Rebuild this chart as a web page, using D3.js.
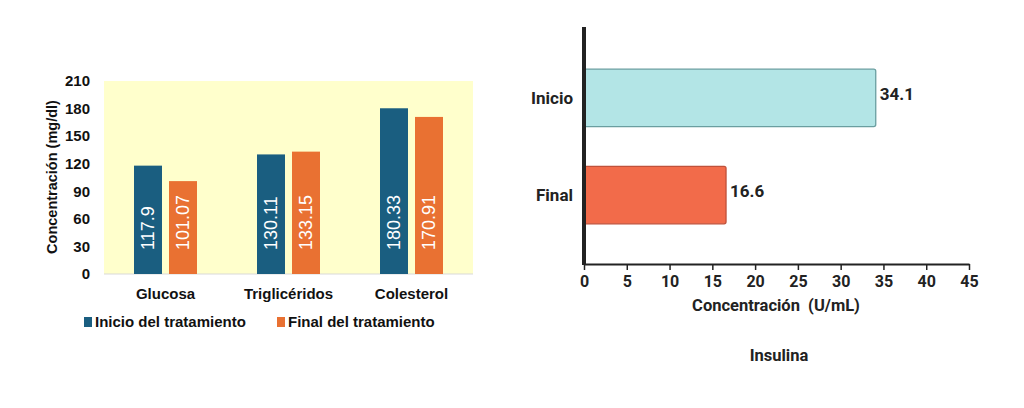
<!DOCTYPE html>
<html><head><meta charset="utf-8">
<script src="https://cdn.jsdelivr.net/npm/d3@7"></script>
<style>body{margin:0;background:#fff}</style>
</head><body><svg width="1024" height="408"></svg>
<script>
// left chart data
const categories = ["Glucosa", "Triglicéridos", "Colesterol"];
const seriesNames = ["Inicio del tratamiento", "Final del tratamiento"];
const inicio = [117.9, 130.11, 180.33];
const final = [101.07, 133.15, 170.91];
const inicioLabels = ["117.9", "130.11", "180.33"];
const finalLabels = ["101.07", "133.15", "170.91"];
const yTicks = [0, 30, 60, 90, 120, 150, 180, 210];
// right chart data
const insCats = ["Inicio", "Final"];
const insValues = [34.1, 16.6];
const xTicks = [0, 5, 10, 15, 20, 25, 30, 35, 40, 45];

const svg = d3.select("svg");
const colors = ["#1a5e80", "#e97132"];

// ---- left grouped bars
const x0 = d3.scaleBand().domain(categories).range([104, 473]);
const y = d3.scaleLinear().domain([0, 210]).range([274, 81]);
svg.append("rect").attr("x", 104).attr("y", y(210)).attr("width", 369).attr("height", y(0) - y(210)).attr("fill", "#ffffcc");
svg.append("line").attr("x1", 104).attr("x2", 473).attr("y1", y(0)).attr("y2", y(0)).attr("stroke", "#d9d9d9");

const ff = "Liberation Sans, Arial, sans-serif";
svg.append("g").selectAll("text").data(yTicks).join("text")
  .attr("x", 90).attr("y", d => y(d)).attr("dy", "0.35em").attr("text-anchor", "end")
  .attr("font-family", ff).attr("font-weight", "bold").attr("font-size", 15).attr("fill", "#111").text(d => d);

svg.append("text").attr("transform", "translate(57,177) rotate(-90)").attr("text-anchor", "middle")
  .attr("font-family", ff).attr("font-weight", "bold").attr("font-size", 14.5).attr("fill", "#111")
  .text("Concentración (mg/dl)");

const sets = [inicio, final], labs = [inicioLabels, finalLabels];
categories.forEach((c, i) => {
  const cx = x0(c) + x0.bandwidth() / 2;
  sets.forEach((s, j) => {
    const bx = cx - 31.5 + j * 35;
    svg.append("rect").attr("x", bx).attr("y", y(s[i])).attr("width", 28).attr("height", y(0) - y(s[i])).attr("fill", colors[j]);
    svg.append("text").attr("transform", `translate(${bx + 14},${y(0) - 24}) rotate(-90)`)
      .attr("dy", "0.35em").attr("font-family", ff).attr("font-size", 18).attr("fill", "#fff").text(labs[j][i]);
  });
  svg.append("text").attr("x", cx).attr("y", 299).attr("text-anchor", "middle")
    .attr("font-family", ff).attr("font-weight", "bold").attr("font-size", 15).attr("fill", "#111").text(c);
});
const legX = [84, 277];
seriesNames.forEach((n, j) => {
  svg.append("rect").attr("x", legX[j]).attr("y", 317).attr("width", 8).attr("height", 10).attr("fill", colors[j]);
  svg.append("text").attr("x", legX[j] + 11).attr("y", 327).attr("font-family", ff).attr("font-weight", "bold")
    .attr("font-size", 15).attr("fill", "#111").text(n);
});

// ---- right horizontal bars
const rf = "Roboto, sans-serif";
const xs = d3.scaleLinear().domain([0, 45]).range([584, 969]);
const yb = d3.scaleBand().domain(insCats).range([40, 253]).paddingInner(0.41).paddingOuter(0.3);
const fills = ["#b3e5e6", "#f26b4a"], strokes = ["#6a9ea0", "#c0513a"];
insCats.forEach((c, i) => {
  svg.append("rect").attr("x", xs(0)).attr("y", yb(c)).attr("width", xs(insValues[i]) - xs(0)).attr("height", yb.bandwidth())
    .attr("rx", 2).attr("fill", fills[i]).attr("stroke", strokes[i]).attr("stroke-width", 1.3);
  svg.append("text").attr("x", xs(insValues[i]) + 4).attr("y", yb(c) + yb.bandwidth() / 2 - 4).attr("dy", "0.35em")
    .attr("font-family", rf).attr("font-weight", "bold").attr("font-size", 17).attr("fill", "#222").text(insValues[i]);
  svg.append("text").attr("x", 573).attr("y", yb(c) + yb.bandwidth() / 2).attr("dy", "0.35em").attr("text-anchor", "end")
    .attr("font-family", rf).attr("font-weight", "bold").attr("font-size", 17).attr("fill", "#222").text(c);
});
const ax = svg.append("g").attr("transform", "translate(0,264)")
  .call(d3.axisBottom(xs).tickValues(xTicks).tickSize(6).tickSizeOuter(0));
ax.select(".domain").attr("stroke", "#222").attr("stroke-width", 2);
ax.selectAll(".tick line").attr("stroke", "#222").attr("stroke-width", 1.5);
ax.selectAll("text").attr("font-family", rf).attr("font-weight", "bold").attr("font-size", 16).attr("fill", "#222").attr("dy", "0.85em");
svg.append("line").attr("x1", 584).attr("x2", 584).attr("y1", 27).attr("y2", 265).attr("stroke", "#222").attr("stroke-width", 4);
svg.append("text").attr("x", 776).attr("y", 311).attr("text-anchor", "middle").attr("font-family", rf).attr("font-weight", "bold")
  .attr("font-size", 16.5).attr("fill", "#222").attr("xml:space", "preserve").text("Concentración  (U/mL)");
svg.append("text").attr("x", 779).attr("y", 361).attr("text-anchor", "middle").attr("font-family", rf).attr("font-weight", "bold")
  .attr("font-size", 16.5).attr("fill", "#222").text("Insulina");
</script></body></html>
